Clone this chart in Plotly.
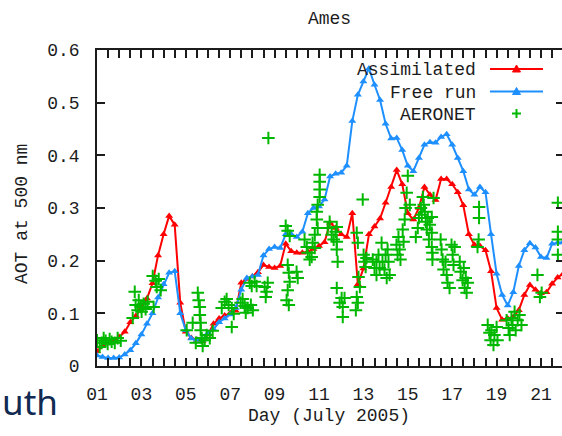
import plotly.graph_objects as go

# ---------------- data ----------------
model_days = [1.00, 1.25, 1.50, 1.75, 2.00, 2.25, 2.50, 2.75, 3.00, 3.25, 3.50, 3.75,
              4.00, 4.25, 4.50, 4.75, 5.00, 5.25, 5.50, 5.75, 6.00, 6.25, 6.50, 6.75,
              7.00, 7.25, 7.50, 7.75, 8.00, 8.25, 8.50, 8.75, 9.00, 9.25, 9.50, 9.75,
              10.00, 10.25, 10.50, 10.75, 11.00, 11.25, 11.50, 11.75, 12.00, 12.25, 12.50, 12.75,
              13.00, 13.25, 13.50, 13.75, 14.00, 14.25, 14.50, 14.75, 15.00, 15.25, 15.50, 15.75,
              16.00, 16.25, 16.50, 16.75, 17.00, 17.25, 17.50, 17.75, 18.00, 18.25, 18.50, 18.75,
              19.00, 19.25, 19.50, 19.75, 20.00, 20.25, 20.50, 20.75, 21.00, 21.25, 21.50, 21.75,
              22.00]

assimilated = [0.028, 0.038, 0.043, 0.047, 0.055, 0.065, 0.083, 0.095, 0.110, 0.128, 0.157, 0.210,
               0.250, 0.285, 0.268, 0.120, 0.065, 0.053, 0.050, 0.047, 0.060, 0.080, 0.090, 0.096,
               0.100, 0.105, 0.158, 0.165, 0.170, 0.178, 0.192, 0.188, 0.186, 0.190, 0.232, 0.218,
               0.215, 0.215, 0.217, 0.222, 0.228, 0.235, 0.272, 0.262, 0.250, 0.245, 0.290, 0.155,
               0.185, 0.250, 0.265, 0.280, 0.310, 0.340, 0.372, 0.345, 0.290, 0.278, 0.300, 0.340,
               0.325, 0.315, 0.355, 0.355, 0.345, 0.330, 0.305, 0.250, 0.230, 0.228, 0.220, 0.180,
               0.110, 0.088, 0.090, 0.093, 0.106, 0.135, 0.154, 0.145, 0.138, 0.140, 0.156, 0.168,
               0.175]

free_run = [0.020, 0.017, 0.015, 0.015, 0.016, 0.022, 0.030, 0.043, 0.060, 0.080, 0.100, 0.130,
            0.155, 0.177, 0.180, 0.100, 0.068, 0.052, 0.050, 0.050, 0.063, 0.070, 0.083, 0.090,
            0.098, 0.110, 0.145, 0.167, 0.170, 0.173, 0.210, 0.222, 0.226, 0.224, 0.250, 0.250,
            0.245, 0.255, 0.290, 0.300, 0.303, 0.316, 0.360, 0.365, 0.367, 0.380, 0.465, 0.515,
            0.540, 0.565, 0.534, 0.505, 0.460, 0.432, 0.433, 0.410, 0.380, 0.370, 0.395, 0.420,
            0.425, 0.424, 0.435, 0.440, 0.420, 0.395, 0.370, 0.335, 0.325, 0.340, 0.330, 0.250,
            0.175, 0.135, 0.115, 0.140, 0.190, 0.220, 0.233, 0.225, 0.207, 0.205, 0.232, 0.234,
            0.235]

aeronet_days = [
    1.00, 1.12, 1.21, 1.30, 1.39, 1.48, 1.57, 1.66, 1.80, 1.93, 2.07,
    2.61, 2.70, 2.74, 2.83, 2.88, 2.97, 3.01, 3.10, 3.19, 3.28,
    3.51, 3.55, 3.64, 3.69, 3.78, 3.87,
    5.04, 5.31, 5.45, 5.54, 5.58, 5.63, 5.63, 5.67, 5.67, 5.72, 5.76, 5.85, 5.94, 6.08, 6.21,
    6.62, 6.75, 6.84, 6.93, 7.07, 7.07, 7.16,
    7.47, 7.56, 7.65, 7.70, 7.79, 7.88, 7.97, 8.10, 8.19, 7.93, 8.02,
    8.55, 8.60, 8.64, 8.69, 8.72,
    9.50, 9.59, 9.68, 9.59, 9.64, 9.68, 9.59, 9.54, 9.64, 9.99, 10.04,
    10.35, 10.45, 10.49, 10.58, 10.67, 10.71, 10.81, 10.81, 10.90, 10.90, 10.94, 11.03,
    11.03, 11.03, 11.03, 10.94,
    11.39, 11.48, 11.57, 11.66, 11.75, 11.80, 11.80, 11.80, 11.84, 11.80, 12.02, 12.07,
    12.07, 12.15, 11.93,
    12.70, 12.75, 12.70, 12.75, 12.78, 12.84, 12.66,
    12.97, 13.01, 13.05, 13.14, 13.10,
    13.42, 13.50, 13.59, 13.59, 13.68, 13.73, 13.82, 13.86, 13.95, 14.00, 14.09, 14.13,
    14.18, 14.05,
    14.49, 14.54, 14.58, 14.63, 14.67, 14.77, 14.81, 14.86, 14.90, 14.95, 15.00, 15.09,
    15.36, 15.45, 15.50, 15.59, 15.63, 15.68, 15.72, 15.77, 15.81, 15.86, 15.90, 15.95,
    15.99, 16.08, 16.08, 16.08, 16.11, 16.11, 16.16,
    16.48, 16.52, 16.57, 16.61, 16.70, 16.75, 16.79, 16.88, 16.97, 17.02, 17.06, 17.11,
    17.34, 17.38, 17.47, 17.52, 17.56, 17.61, 17.65, 17.70,
    18.21, 18.21, 18.19, 18.14,
    18.60, 18.68, 18.73, 18.77, 18.86, 18.90, 19.00, 19.04,
    19.45, 19.54, 19.59, 19.67, 19.72, 19.81, 19.86, 19.95, 20.03, 20.12,
    20.84, 21.03, 20.95,
    21.76, 21.76, 21.76, 21.76]

aeronet_aot = [
    0.049, 0.036, 0.044, 0.053, 0.048, 0.042, 0.051, 0.046, 0.044, 0.053, 0.048,
    0.091, 0.141, 0.116, 0.106, 0.125, 0.112, 0.103, 0.118, 0.108, 0.122,
    0.171, 0.112, 0.162, 0.150, 0.165, 0.144,
    0.068, 0.082, 0.044, 0.139, 0.125, 0.112, 0.097, 0.082, 0.068, 0.053, 0.038, 0.049, 0.059, 0.053, 0.067,
    0.110, 0.122, 0.127, 0.116, 0.110, 0.074, 0.099,
    0.120, 0.127, 0.114, 0.101, 0.110, 0.158, 0.152, 0.160, 0.152, 0.116, 0.106,
    0.150, 0.131, 0.141, 0.158, 0.433,
    0.266, 0.257, 0.247, 0.192, 0.177, 0.160, 0.144, 0.125, 0.116, 0.179, 0.167,
    0.240, 0.226, 0.215, 0.202, 0.207, 0.234, 0.249, 0.224, 0.278, 0.293, 0.306, 0.321,
    0.335, 0.350, 0.363, 0.262,
    0.262, 0.274, 0.249, 0.240, 0.255, 0.264, 0.236, 0.221, 0.198, 0.148, 0.129, 0.112,
    0.093, 0.129, 0.120,
    0.253, 0.234, 0.131, 0.120, 0.169, 0.150, 0.106,
    0.316, 0.211, 0.198, 0.205, 0.188,
    0.202, 0.186, 0.198, 0.173, 0.211, 0.186, 0.234, 0.198, 0.183, 0.211, 0.221, 0.198,
    0.173, 0.167,
    0.230, 0.211, 0.245, 0.221, 0.202, 0.259, 0.236, 0.278, 0.300, 0.329, 0.361, 0.306,
    0.245, 0.262, 0.281, 0.300, 0.287, 0.321, 0.306, 0.293, 0.274, 0.259, 0.281, 0.240,
    0.268, 0.283, 0.253, 0.226, 0.215, 0.202, 0.319,
    0.240, 0.221, 0.202, 0.183, 0.198, 0.173, 0.158, 0.148, 0.230, 0.211, 0.192, 0.226,
    0.198, 0.179, 0.163, 0.186, 0.148, 0.167, 0.139, 0.158,
    0.302, 0.281, 0.240, 0.226,
    0.078, 0.063, 0.049, 0.068, 0.040, 0.059, 0.074, 0.049,
    0.087, 0.072, 0.059, 0.091, 0.078, 0.103, 0.068, 0.087, 0.097, 0.078,
    0.173, 0.139, 0.131,
    0.310, 0.255, 0.240, 0.211]

x_tick_vals = [1, 3, 5, 7, 9, 11, 13, 15, 17, 19, 21]
x_tick_text = ["01", "03", "05", "07", "09", "11", "13", "15", "17", "19", "21"]
y_tick_vals = [0, 0.1, 0.2, 0.3, 0.4, 0.5, 0.6]
y_tick_text = ["0", "0.1", "0.2", "0.3", "0.4", "0.5", "0.6"]
series_names = ["Assimilated", "Free run", "AERONET"]

# ---------------- styling ----------------
W, H = 562, 436
L, R, T, B = 97, 0, 50, 70
PW, PH = W - L - R, H - T - B
PX_PER_DAY = 22.2
X_MAX = 1 + PW / PX_PER_DAY

RED = "#ff0000"
BLUE = "#1e8fff"
GREEN = "#00b800"
INK = "#1c1c1c"
FONT = "Liberation Mono"
FS = 18


def px(x):
    return (x - L) / PW


def py(y):
    return (H - B - y) / PH


fig = go.Figure()
fig.add_trace(go.Scatter(x=model_days, y=assimilated, name=series_names[0], mode="lines+markers",
                         line=dict(color=RED, width=2),
                         marker=dict(symbol="triangle-up", size=7, color=RED), showlegend=False))
fig.add_trace(go.Scatter(x=model_days, y=free_run, name=series_names[1], mode="lines+markers",
                         line=dict(color=BLUE, width=2),
                         marker=dict(symbol="triangle-up", size=7, color=BLUE), showlegend=False))
fig.add_trace(go.Scatter(x=aeronet_days, y=aeronet_aot, name=series_names[2], mode="markers",
                         marker=dict(symbol="cross-thin", size=9, color=GREEN,
                                     line=dict(color=GREEN, width=2)), showlegend=False))
# carrier for the right-hand tick marks
fig.add_trace(go.Scatter(x=[None], y=[None], yaxis="y2", showlegend=False, hoverinfo="skip"))

fig.update_layout(
    width=W, height=H, margin=dict(l=L, r=R, t=T, b=B, pad=0),
    paper_bgcolor="white", plot_bgcolor="white",
    font=dict(family=FONT, size=FS, color=INK),
    title=dict(text="Ames", x=0.5, xref="paper", y=1 - 18 / H, yref="container",
               xanchor="center", yanchor="middle", font=dict(family=FONT, size=FS, color=INK)),
    xaxis=dict(range=[1, X_MAX], tickmode="array", tickvals=x_tick_vals, ticktext=x_tick_text,
               ticks="inside", ticklen=8, tickwidth=1.5, tickcolor=INK,
               showline=True, linecolor=INK, linewidth=1.5, mirror="allticks",
               showgrid=False, zeroline=False, ticklabelstandoff=11,
               minor=dict(tickmode="linear", tick0=1, dtick=0.5, ticks="inside", ticklen=4,
                          tickwidth=1.5, tickcolor=INK, showgrid=False),
               tickfont=dict(family=FONT, size=FS, color=INK)),
    yaxis=dict(range=[0, 0.6], tickmode="array", tickvals=y_tick_vals, ticktext=y_tick_text,
               ticks="inside", ticklen=8, tickwidth=1.5, tickcolor=INK,
               showline=True, linecolor=INK, linewidth=1.5, mirror=False,
               showgrid=False, zeroline=False, ticklabelstandoff=12,
               tickfont=dict(family=FONT, size=FS, color=INK)),
    yaxis2=dict(range=[0, 0.6], overlaying="y", side="right", tickmode="array",
                tickvals=y_tick_vals, ticks="inside", ticklen=6, tickwidth=1.5, tickcolor=INK,
                showticklabels=False, showline=False, showgrid=False, zeroline=False),
)

ann = []
ann.append(dict(text="AOT at 500 nm", x=px(22), y=py(214), xref="paper", yref="paper",
                textangle=-90, showarrow=False, xanchor="center", yanchor="middle",
                font=dict(family=FONT, size=FS, color=INK)))
ann.append(dict(text="Day (July 2005)", x=px(329), y=py(416), xref="paper", yref="paper",
                showarrow=False, xanchor="center", yanchor="middle",
                font=dict(family=FONT, size=FS, color=INK)))
ann.append(dict(text="uth", x=px(0), y=py(401), xref="paper", yref="paper",
                showarrow=False, xanchor="left", yanchor="middle",
                font=dict(family="Noto Sans", size=35, color="#102a52")))

# manual gnuplot-style key: text on the left, sample on the right
rows_y = [69, 91.5, 113.5]
for name, yy in zip(series_names, rows_y):
    ann.append(dict(text=name, x=px(478), y=py(yy + 1), xref="paper", yref="paper",
                    showarrow=False, xanchor="right", yanchor="middle",
                    font=dict(family=FONT, size=FS, color=INK)))
fig.update_layout(annotations=ann)

shapes = []
for col, yy in zip([RED, BLUE], rows_y[:2]):
    shapes.append(dict(type="line", xref="paper", yref="paper", x0=px(490), x1=px(543),
                       y0=py(yy), y1=py(yy), line=dict(color=col, width=2)))
    tri = f"M {px(512.5)} {py(yy + 3)} L {px(520.5)} {py(yy + 3)} L {px(516.5)} {py(yy - 4)} Z"
    shapes.append(dict(type="path", xref="paper", yref="paper", path=tri,
                       fillcolor=col, line=dict(color=col, width=1)))
gy = rows_y[2]
shapes.append(dict(type="line", xref="paper", yref="paper", x0=px(512), x1=px(521),
                   y0=py(gy), y1=py(gy), line=dict(color=GREEN, width=2)))
shapes.append(dict(type="line", xref="paper", yref="paper", x0=px(516.5), x1=px(516.5),
                   y0=py(gy - 4.5), y1=py(gy + 4.5), line=dict(color=GREEN, width=2)))
fig.update_layout(shapes=shapes)

fig.write_html("out.html")
